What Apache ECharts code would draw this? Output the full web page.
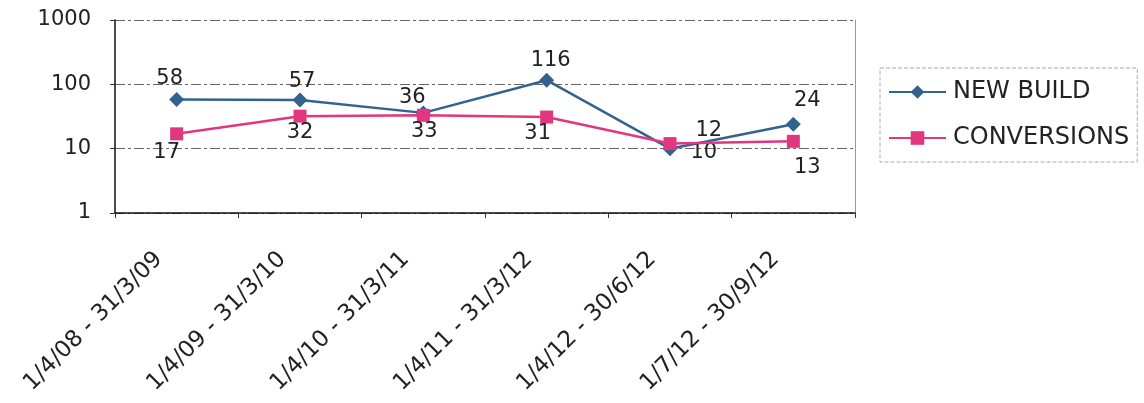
<!DOCTYPE html>
<html>
<head>
<meta charset="utf-8">
<script src="https://cdn.jsdelivr.net/npm/echarts@6/dist/echarts.min.js"></script>
<style>
  html, body { margin: 0; padding: 0; background: #fff; }
  #chart { width: 1144px; height: 403px; }
</style>
</head>
<body>
<div id="chart"></div>
<script>
const categories = ['1/4/08 - 31/3/09', '1/4/09 - 31/3/10', '1/4/10 - 31/3/11', '1/4/11 - 31/3/12', '1/4/12 - 30/6/12', '1/7/12 - 30/9/12']
const newBuild = [58, 57, 36, 116, 10, 24]
const conversions = [17, 32, 33, 31, 12, 13]
const seriesNames = ['NEW BUILD', 'CONVERSIONS']

// where each value label sits relative to its point
const newBuildLabelPlace = [
    { position: 'top', offset: [-7, 0] },
    { position: 'top', offset: [2, 3] },
    { position: 'top', offset: [-11, 6] },
    { position: 'top', offset: [4, 1] },
    { position: 'right', offset: [10, 4] },
    { position: 'top', offset: [14, -3] }
]
const conversionsLabelPlace = [
    { position: 'bottom', offset: [-10, -1] },
    { position: 'bottom', offset: [0, -4] },
    { position: 'bottom', offset: [1, -4] },
    { position: 'bottom', offset: [-9, -4] },
    { position: 'right', offset: [16, -13] },
    { position: 'bottom', offset: [14, 6] }
]

const font = 'DejaVu Sans'
const textColor = '#222'

function withLabels(values, places) {
    return values.map((v, i) => ({ value: v, label: places[i] }))
}

const chart = echarts.init(document.getElementById('chart'))
chart.setOption({
    animation: false,
    textStyle: { fontFamily: font },
    color: ['#33628f', '#e2367f'],
    grid: { left: 115, right: 289, top: 20, bottom: 190 },
    legend: {
        data: seriesNames,
        orient: 'vertical',
        left: 880,
        top: 68,
        padding: [12, 8, 12, 8],
        itemGap: 22,
        itemWidth: 57,
        itemHeight: 17,
        borderColor: '#aaa',
        borderWidth: 1,
        borderType: 'dashed',
        textStyle: { fontFamily: font, fontSize: 24, color: textColor, padding: [0, 0, 0, 2] }
    },
    xAxis: {
        type: 'category',
        data: categories,
        boundaryGap: true,
        axisLine: { lineStyle: { color: '#111', width: 1.5 } },
        axisTick: { show: true, length: 5, inside: false, lineStyle: { color: '#333' } },
        axisLabel: {
            rotate: 45,
            margin: 25,
            fontFamily: font,
            fontSize: 23,
            color: textColor,
            padding: [0, 25, 0, 0],
            interval: 0
        }
    },
    yAxis: [{
        type: 'log',
        logBase: 10,
        min: 1,
        max: 1000,
        axisLine: { show: true, lineStyle: { color: '#111', width: 1.5 } },
        axisTick: { show: true, length: 5, lineStyle: { color: '#333' } },
        axisLabel: {
            margin: 24, fontFamily: font, fontSize: 21, color: textColor,
            formatter: v => String(Math.round(v))
        },
        splitLine: { show: true, lineStyle: { color: '#666', type: [10, 3, 3, 3], width: 1 } }
    }, {
        type: 'log',
        logBase: 10,
        min: 1,
        max: 1000,
        position: 'right',
        axisLine: { show: true, lineStyle: { color: '#999', width: 1 } },
        axisTick: { show: false },
        axisLabel: { show: false },
        splitLine: { show: false }
    }],
    series: [{
        name: seriesNames[0],
        type: 'line',
        data: withLabels(newBuild, newBuildLabelPlace),
        symbol: 'diamond',
        symbolSize: 15,
        lineStyle: { width: 2.5 },
        label: { show: true, distance: 3, fontFamily: font, fontSize: 21, color: textColor },
        z: 3
    }, {
        name: seriesNames[1],
        type: 'line',
        data: withLabels(conversions, conversionsLabelPlace),
        symbol: 'rect',
        symbolSize: 13,
        lineStyle: { width: 2.5 },
        label: { show: true, distance: 3, fontFamily: font, fontSize: 21, color: textColor },
        z: 4
    }]
})
</script>
</body>
</html>
